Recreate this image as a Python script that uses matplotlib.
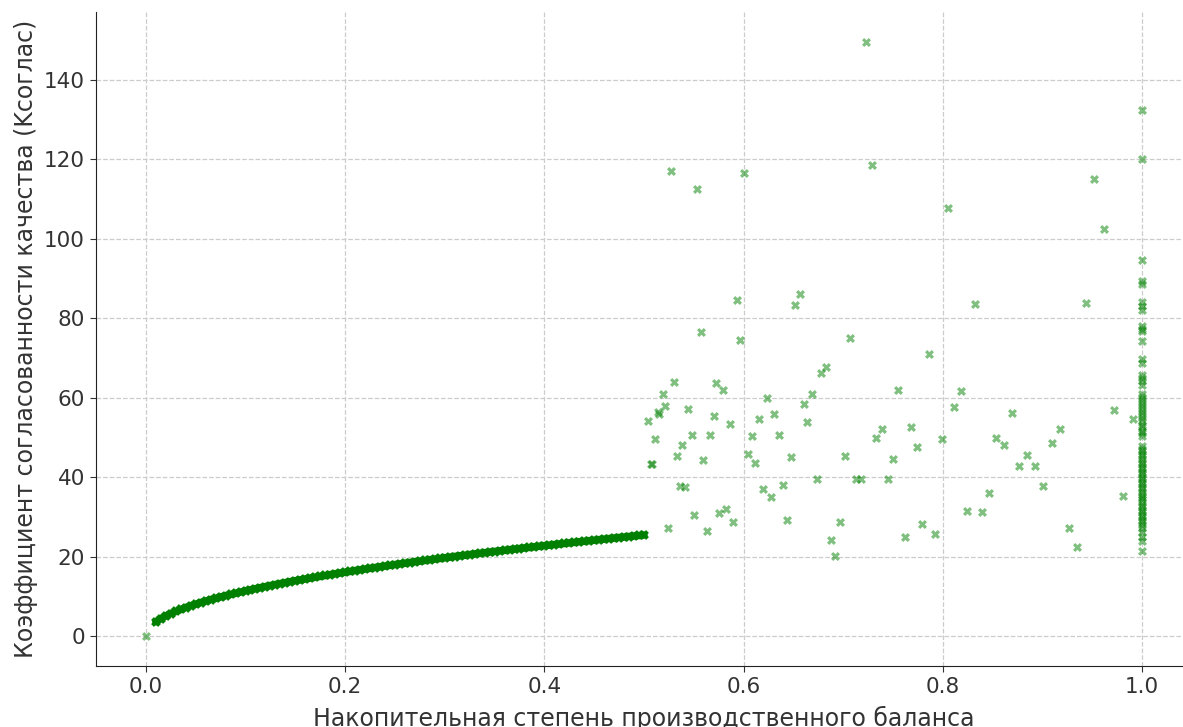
import matplotlib.pyplot as plt

# Кривая: плотная последовательность точек (0.01 .. 0.5)
curve_x = [0.010, 0.015, 0.020, 0.025, 0.030, 0.035, 0.040, 0.045, 0.050, 0.055,
           0.060, 0.065, 0.070, 0.075, 0.080, 0.085, 0.090, 0.095, 0.100, 0.105,
           0.110, 0.115, 0.120, 0.125, 0.130, 0.135, 0.140, 0.145, 0.150, 0.155,
           0.160, 0.165, 0.170, 0.175, 0.180, 0.185, 0.190, 0.195, 0.200, 0.205,
           0.210, 0.215, 0.220, 0.225, 0.230, 0.235, 0.240, 0.245, 0.250, 0.255,
           0.260, 0.265, 0.270, 0.275, 0.280, 0.285, 0.290, 0.295, 0.300, 0.305,
           0.310, 0.315, 0.320, 0.325, 0.330, 0.335, 0.340, 0.345, 0.350, 0.355,
           0.360, 0.365, 0.370, 0.375, 0.380, 0.385, 0.390, 0.395, 0.400, 0.405,
           0.410, 0.415, 0.420, 0.425, 0.430, 0.435, 0.440, 0.445, 0.450, 0.455,
           0.460, 0.465, 0.470, 0.475, 0.480, 0.485, 0.490, 0.495, 0.500]
curve_y = [3.60, 4.41, 5.09, 5.69, 6.24, 6.73, 7.20, 7.64, 8.05, 8.44,
           8.82, 9.18, 9.52, 9.86, 10.18, 10.50, 10.80, 11.10, 11.38, 11.67,
           11.94, 12.21, 12.47, 12.73, 12.98, 13.23, 13.47, 13.71, 13.94, 14.17,
           14.40, 14.62, 14.84, 15.06, 15.27, 15.48, 15.69, 15.90, 16.10, 16.30,
           16.50, 16.69, 16.89, 17.08, 17.26, 17.45, 17.64, 17.82, 18.00, 18.18,
           18.36, 18.53, 18.71, 18.88, 19.05, 19.22, 19.39, 19.55, 19.72, 19.88,
           20.04, 20.21, 20.36, 20.52, 20.68, 20.84, 20.99, 21.15, 21.30, 21.45,
           21.60, 21.75, 21.90, 22.05, 22.19, 22.34, 22.48, 22.63, 22.77, 22.91,
           23.05, 23.19, 23.33, 23.47, 23.61, 23.74, 23.88, 24.01, 24.15, 24.28,
           24.42, 24.55, 24.68, 24.81, 24.94, 25.07, 25.20, 25.33, 25.46]

# Разброс точек (0.5 .. 1.0)
scatter_x = [0.0,
             0.7226, 0.5268, 0.5535, 0.6001, 0.7286, 0.5931, 0.6563, 0.6519,
             0.5569, 0.5967, 0.7068, 0.5301, 0.5726, 0.5797, 0.5187, 0.5214,
             0.5143, 0.5155, 0.5037, 0.5442, 0.5699, 0.5863, 0.5114, 0.5479,
             0.5663, 0.5385, 0.5328, 0.5596, 0.5070, 0.5085, 0.5360, 0.5415,
             0.5505, 0.5241, 0.5633, 0.5756, 0.5823, 0.5894, 0.6232, 0.6151,
             0.6305, 0.6606, 0.6687, 0.6777, 0.6827, 0.7553, 0.6640, 0.6081,
             0.6352, 0.6047, 0.6114, 0.6476, 0.7021, 0.7333, 0.7393, 0.7503,
             0.6733, 0.7129, 0.7175, 0.7446, 0.6195, 0.6275, 0.6392, 0.6436,
             0.6971, 0.6877, 0.6921,
             0.7861, 0.8183, 0.8112, 0.8692, 0.7677, 0.7992, 0.7744, 0.8534,
             0.8614, 0.8842, 0.8765, 0.8929, 0.9093, 0.9180, 0.9006, 0.9719,
             0.9910, 0.9809, 0.8460, 0.8246, 0.8394, 0.7794, 0.7925, 0.7617,
             0.9264, 0.9350, 0.8056, 0.9521, 0.9615, 0.8323, 0.9438]
scatter_y = [0.0,
             149.4, 116.9, 112.5, 116.4, 118.6, 84.6, 86.0, 83.4,
             76.5, 74.6, 75.0, 64.0, 63.8, 61.8, 60.9, 57.9,
             56.3, 55.8, 54.1, 57.1, 55.3, 53.3, 49.7, 50.6,
             50.6, 48.0, 45.3, 44.4, 43.2, 43.2, 37.8, 37.6,
             30.5, 27.2, 26.5, 31.1, 31.9, 28.8, 59.9, 54.7,
             55.8, 58.5, 61.0, 66.3, 67.7, 61.9, 53.8, 50.3,
             50.6, 45.9, 43.6, 45.0, 45.2, 49.9, 52.0, 44.5,
             39.5, 39.5, 39.5, 39.5, 36.9, 35.0, 38.0, 29.2,
             28.8, 24.2, 20.1,
             70.9, 61.7, 57.7, 56.1, 52.6, 49.6, 47.6, 49.8,
             48.2, 45.5, 42.8, 42.8, 48.6, 52.1, 37.7, 57.0,
             54.7, 35.3, 36.1, 31.5, 31.2, 28.2, 25.8, 25.0,
             27.3, 22.5, 107.7, 114.9, 102.3, 83.6, 83.8]

# Столбец значений при x = 1.0
column_y = [132.4, 120.1, 94.7, 89.3, 88.5, 84.0, 83.0, 82.0, 77.9, 77.2,
            76.7, 74.2, 69.6, 68.8, 65.8, 65.0, 64.2, 63.3,
            60.8, 60.1, 59.4, 58.6, 57.9, 57.1, 56.3, 55.6, 54.9, 54.0,
            53.2, 52.5, 51.7, 51.0, 50.3,
            47.8, 47.2, 46.5, 45.9, 45.2, 44.6, 43.9, 43.3, 42.6, 42.0,
            41.4, 40.7, 40.1, 39.5, 38.8, 38.2, 37.5, 36.9, 36.3, 35.6,
            35.0, 34.4, 33.7, 33.1, 32.5, 31.8, 31.2, 30.5, 29.9, 29.3,
            28.6, 28.0, 27.3, 26.1, 25.0, 24.0, 21.4]
column_x = [1.0] * len(column_y)

plt.rcParams['font.family'] = ['DejaVu Sans']

fig = plt.figure(figsize=(11.83, 7.27), dpi=100)
ax = fig.add_axes([0.0812, 0.0839, 0.9264, 0.8996])

# плотная кривая: маркеры сливаются в сплошную полосу
ax.plot(curve_x, curve_y, color='green', linewidth=5.5, solid_capstyle='round',
        marker='X', markersize=7, markeredgewidth=0)
ax.scatter(scatter_x, scatter_y, marker='X', s=42, color='green', alpha=0.5, linewidths=0)
ax.scatter(column_x, column_y, marker='X', s=42, color='green', alpha=0.5, linewidths=0)

ax.set_xlim(-0.05, 1.05)
ax.set_ylim(-7.5, 157)
ax.set_xticks([0.0, 0.2, 0.4, 0.6, 0.8, 1.0])
ax.set_yticks([0, 20, 40, 60, 80, 100, 120, 140])

ax.grid(True, linestyle='--', color='#cccccc', linewidth=0.9)
ax.set_axisbelow(True)
for side in ['top', 'right']:
    ax.spines[side].set_visible(False)
ax.spines['left'].set_color('#222222')
ax.spines['bottom'].set_color('#222222')
ax.tick_params(labelsize=15.5, colors='#333333', length=4.5)

ax.set_xlabel('Накопительная степень производственного баланса', fontsize=17,
              color='#333333', labelpad=6)
ax.set_ylabel('Коэффициент согласованности качества (Kсоглас)', fontsize=17,
              color='#333333')

fig.savefig('out.png', dpi=100)
